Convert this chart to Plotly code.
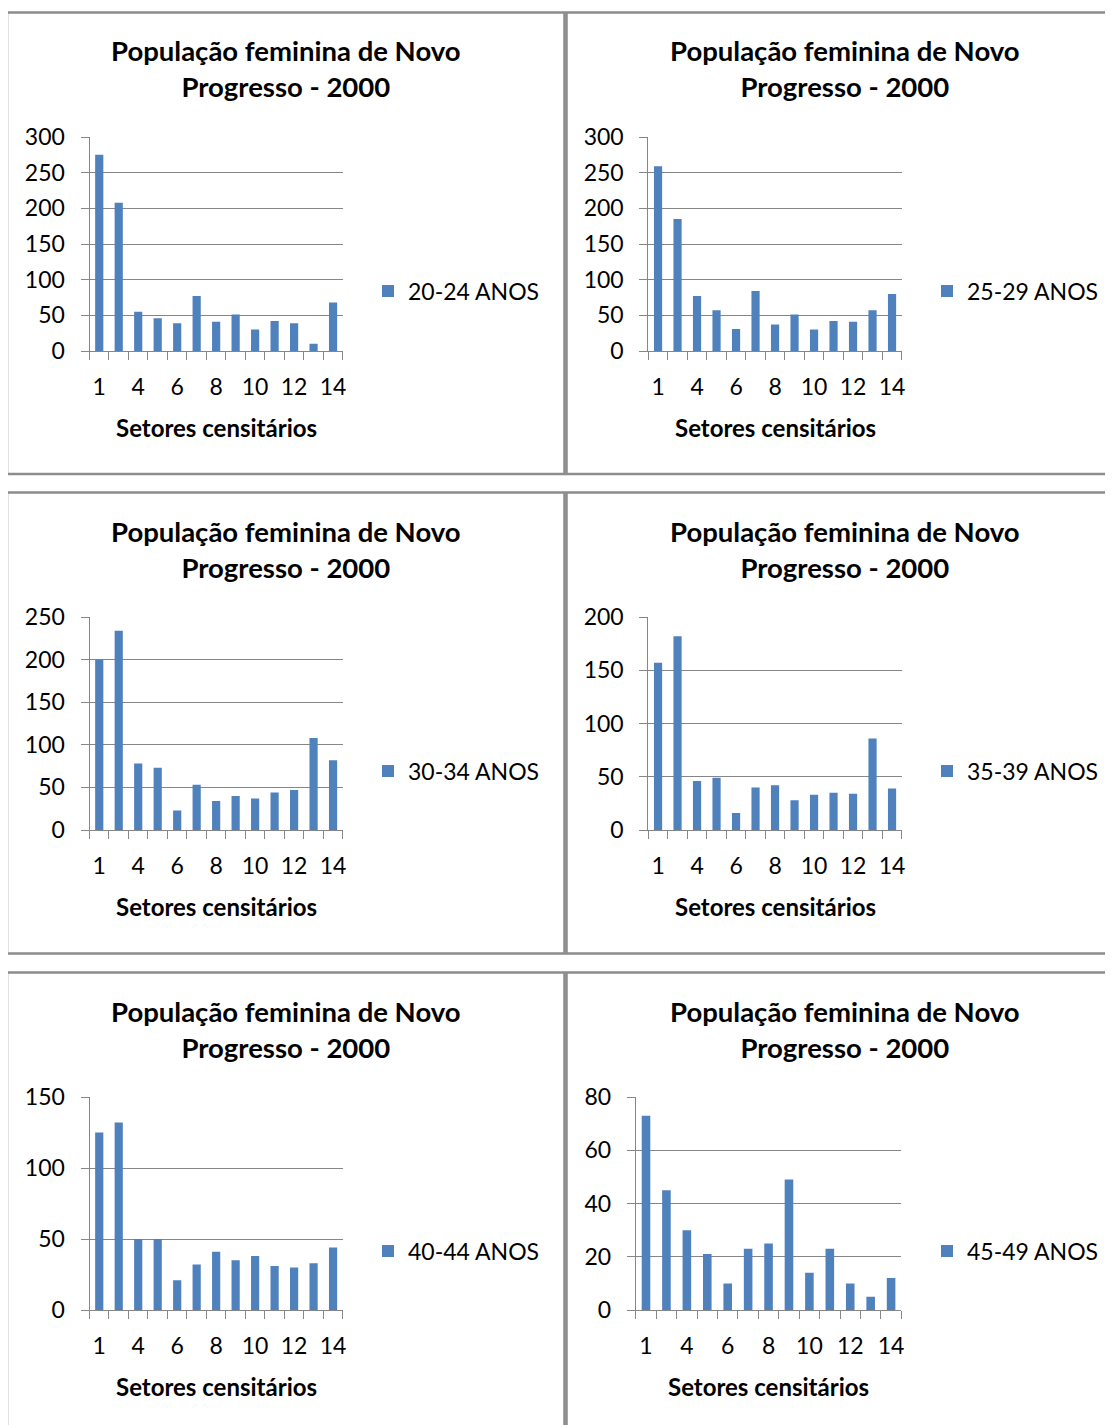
import plotly.graph_objects as go

# page body has an 8px margin; size the figure so it fits the 1113x1425 window
OFF = 8
W, H = 1113 - OFF, 1425 - OFF

sectors = ["1", "3", "4", "5", "6", "7", "8", "9", "10", "11", "12", "13", "14"]
age_groups = ["20-24 ANOS", "25-29 ANOS", "30-34 ANOS", "35-39 ANOS", "40-44 ANOS", "45-49 ANOS"]
pop_20_24 = [275, 208, 55, 46, 39, 77, 41, 51, 30, 42, 39, 10, 68]
pop_25_29 = [259, 185, 77, 57, 31, 84, 37, 51, 30, 42, 41, 57, 80]
pop_30_34 = [200, 234, 78, 73, 23, 53, 34, 40, 37, 44, 47, 108, 82]
pop_35_39 = [157, 182, 46, 49, 16, 40, 42, 28, 33, 35, 34, 86, 39]
pop_40_44 = [125, 132, 50, 50, 21, 32, 41, 35, 38, 31, 30, 33, 44]
pop_45_49 = [73, 45, 30, 21, 10, 23, 25, 49, 14, 23, 10, 5, 12]
series = [pop_20_24, pop_25_29, pop_30_34, pop_35_39, pop_40_44, pop_45_49]
y_max = [300, 300, 250, 200, 150, 80]
y_step = [50, 50, 50, 50, 50, 20]

title_text = "População feminina de Novo<br>Progresso - 2000"
xaxis_title = "Setores censitários"

FONT = "Lato"
BAR = "#4F81BD"
GRID = "#868686"
BORDER = "#8c8c8c"

def xp(px):
    return (px - OFF) / W

def yp(py):
    return 1 - (py - OFF) / H

# panel geometry in reference pixels (layout only)
plot_x = [(89.5, 342.8), (648.3, 901.8), (89.5, 342.8), (648.3, 901.8), (89.5, 342.8), (635.8, 901.3)]
row_top = [137, 617, 1097]
row_bot = [351, 830, 1310]
col_center = [286, 845]
legend_x = [368, 927]
panel_x = [(7, 564.5), (566.5, 1130)]
panel_y = [(12.5, 474), (492.5, 953.5), (972.5, 1440)]

fig = go.Figure()
annotations = []
shapes = []
idx = list(range(len(sectors)))

for k in range(6):
    r, c = divmod(k, 2)
    n = "" if k == 0 else str(k + 1)
    leg = "legend" if k == 0 else "legend" + str(k + 1)
    fig.add_trace(go.Bar(
        x=idx, y=series[k], name=age_groups[k],
        marker=dict(color=BAR, line=dict(width=0)),
        xaxis="x" + n, yaxis="y" + n, legend=leg, showlegend=True,
        width=0.42,
    ))
    x0, x1 = plot_x[k]
    fig.layout["xaxis" + n] = dict(
        domain=[xp(x0), xp(x1)], anchor="y" + n, automargin=False,
        range=[-0.5, len(sectors) - 0.5],
        tickmode="array", tickvals=idx[::2], ticktext=sectors[::2],
        ticks="", showgrid=False, zeroline=False,
        showline=True, linecolor=GRID, linewidth=1,
        tickfont=dict(family=FONT, size=23, color="#000000"),
        ticklabelstandoff=15,
        minor=dict(tickmode="array", tickvals=[i - 0.5 for i in range(len(sectors) + 1)],
                   ticks="outside", ticklen=8, tickcolor=GRID, tickwidth=1, showgrid=False),
        fixedrange=True,
    )
    fig.layout["yaxis" + n] = dict(
        domain=[yp(row_bot[r]), yp(row_top[r])], anchor="x" + n, automargin=False,
        range=[0, y_max[k]], dtick=y_step[k], tick0=0,
        ticks="outside", ticklen=8, tickcolor=GRID, tickwidth=1,
        showgrid=True, gridcolor=GRID, gridwidth=1,
        zeroline=False, showline=True, linecolor=GRID, linewidth=1,
        tickfont=dict(family=FONT, size=23, color="#000000"),
        ticklabelstandoff=11,
        fixedrange=True,
    )
    fig.layout[leg] = dict(
        x=xp(legend_x[c]), y=yp(row_top[r] + 154), xanchor="left", yanchor="middle",
        bgcolor="rgba(0,0,0,0)", borderwidth=0,
        font=dict(family=FONT, size=23, color="#000000"),
    )
    # chart title
    annotations.append(dict(
        text="<b>" + title_text + "</b>", xref="paper", yref="paper",
        x=xp(col_center[c]), y=yp(row_top[r] - 68), xanchor="center", yanchor="middle",
        showarrow=False, align="center",
        font=dict(family=FONT, size=27.5, color="#000000"),
    ))
    # x-axis title
    annotations.append(dict(
        text="<b>" + xaxis_title + "</b>", xref="paper", yref="paper",
        x=xp((x0 + x1) / 2), y=yp(row_bot[r] + 76), xanchor="center", yanchor="middle",
        showarrow=False,
        font=dict(family=FONT, size=24, color="#000000"),
    ))
    # panel border
    px0, px1 = panel_x[c]
    py0, py1 = panel_y[r]
    shapes.append(dict(
        type="rect", xref="paper", yref="paper",
        x0=xp(px0), x1=xp(px1), y0=yp(py1), y1=yp(py0),
        line=dict(color=BORDER, width=2.5), fillcolor="rgba(0,0,0,0)", layer="below",
    ))

fig.update_layout(
    width=W, height=H, margin=dict(l=0, r=0, t=0, b=0, autoexpand=False),
    paper_bgcolor="white", plot_bgcolor="white",
    bargap=0.6, annotations=annotations, shapes=shapes,
    font=dict(family=FONT, color="#000000"),
)

fig.write_html("out.html")
